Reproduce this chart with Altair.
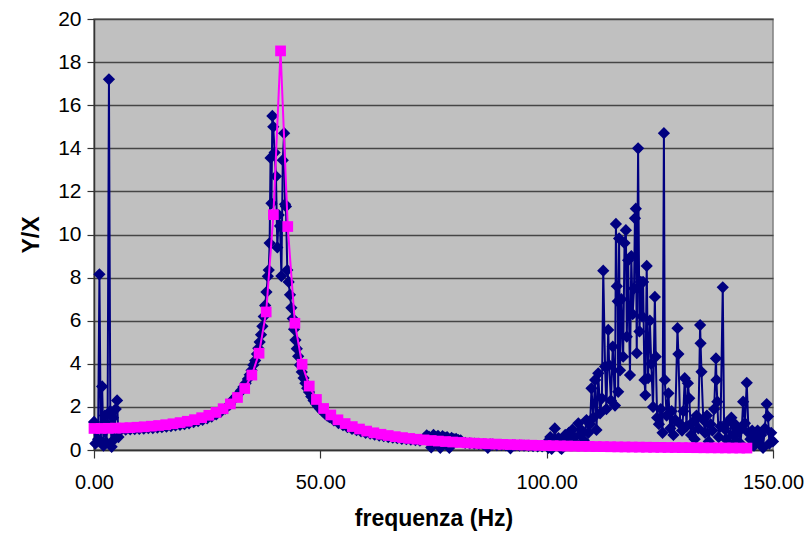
import altair as alt
import pandas as pd

# ---------------- measured series (blue diamonds) ----------------
navy_low_hz = [0.0, 0.3, 0.6, 0.9, 1.2, 1.5, 1.8, 2.1, 2.4, 2.7, 3.0, 3.3, 3.6, 3.9, 4.2, 4.5, 4.8, 5.1, 5.4, 5.7]
navy_low_yx = [1.3, 0.3, 1.0, 0.5, 8.15, 0.4, 2.95, 0.2, 1.6, 0.35, 1.2, 17.2, 1.8, 0.15, 1.5, 0.5, 1.9, 2.3, 0.6, 0.9]

navy_rise_hz = [6, 7, 8, 9, 10, 11, 12, 13, 14, 15, 16, 17, 18, 19, 20, 21, 22, 23, 24, 25, 26, 27, 28, 29, 30,
                30.5, 31.0, 31.5, 32.0, 32.5, 33.0, 33.5, 34.0, 34.4, 34.8, 35.2, 35.6, 36.0, 36.3, 36.6, 36.9,
                37.2, 37.5, 37.8, 38.1, 38.4]
navy_rise_yx = [0.94, 0.95, 0.96, 0.97, 0.98, 0.99, 1.01, 1.02, 1.04, 1.06, 1.08, 1.11, 1.14, 1.17, 1.20, 1.24,
                1.29, 1.34, 1.40, 1.47, 1.55, 1.65, 1.77, 1.92, 2.10,
                2.29, 2.39, 2.50, 2.62, 2.76, 2.92, 3.10, 3.30, 3.49, 3.70, 3.95, 4.15, 4.45, 4.72, 5.01, 5.35,
                5.74, 6.19, 6.71, 7.33, 8.06]

navy_peak_hz = [38.6, 38.8, 39.0, 39.2, 39.4, 39.6, 39.9, 40.2, 40.5, 40.8, 41.1, 41.4, 41.7, 42.0, 42.2, 42.4,
                42.7, 43.0]
navy_peak_yx = [8.35, 9.6, 13.55, 11.45, 15.5, 15.0, 13.8, 12.7, 9.4, 10.9, 10.4, 8.07, 13.45, 14.7, 11.4, 11.3,
                8.35, 7.8]

navy_fall_hz = [43.3, 43.6, 43.9, 44.2, 44.5, 44.8, 45.1, 45.5, 45.9, 46.3, 46.7, 47.1, 47.5, 48.0, 48.5, 49.0,
                49.5, 50.0, 50.5, 51.0, 51.5, 52.0, 53, 54, 55, 56, 57, 58, 59, 60, 61, 62, 63, 64, 65, 66, 67,
                68, 69, 70, 71, 72, 73, 73.5, 74, 74.5, 75, 75.5, 76, 76.5, 77, 77.5, 78, 78.5, 79, 79.5, 80,
                80.5, 81, 82, 83, 84, 85, 86, 87, 87.5, 88, 89, 90, 91, 92, 92.5, 93, 94, 95, 96, 97, 98, 99]
navy_fall_yx = [7.2, 6.6, 6.1, 5.6, 5.1, 4.7, 4.35, 3.95, 3.62, 3.34, 3.1, 2.87, 2.69, 2.48, 2.3, 2.15,
                2.02, 1.9, 1.79, 1.69, 1.6, 1.52, 1.37, 1.25, 1.15, 1.06, 0.98, 0.92, 0.86, 0.80, 0.76, 0.71,
                0.67, 0.64, 0.60, 0.57, 0.55, 0.52, 0.50, 0.48, 0.46, 0.44, 0.55, 0.68, 0.62, 0.12, 0.70, 0.60,
                0.66, 0.10, 0.64, 0.58, 0.60, 0.10, 0.56, 0.50, 0.52, 0.46, 0.45, 0.33, 0.31, 0.30, 0.28, 0.26,
                0.10, 0.26, 0.25, 0.23, 0.24, 0.22, 0.08, 0.22, 0.21, 0.20, 0.20, 0.19, 0.18, 0.17, 0.17]

navy_high_hz = [100.0, 100.4, 100.8, 101.1, 101.5, 101.8, 102.2, 102.6, 103.0, 103.3, 103.7, 104.1, 104.5, 104.9,
                105.3, 105.7, 106.1, 106.5, 107.0, 107.4, 107.8, 108.2, 108.8, 109.2, 109.6, 109.9, 110.3, 110.7,
                111.0, 111.4, 111.8, 112.2, 112.5, 112.9, 113.2, 113.6, 113.8, 114.2, 114.6, 115.1, 115.3, 115.5,
                115.7, 115.8, 116.0, 116.2, 116.5, 116.9, 117.2, 117.5, 117.7, 118.0, 118.4, 118.7, 119.0, 119.3,
                119.5, 119.7, 119.9, 120.2, 120.5, 120.8, 121.1, 121.3, 121.6, 121.8, 122.1, 122.4, 122.8, 123.1,
                123.5, 123.9, 124.1, 124.4, 124.8, 125.2, 125.6, 125.9, 126.1, 126.5, 126.9, 127.3, 127.6, 128.0,
                128.4, 128.9, 129.1, 129.5, 129.9, 130.2, 130.5, 130.9, 131.2, 131.5, 131.9, 132.3, 132.7, 133.1,
                133.5, 133.9, 134.0, 134.2, 134.6, 135.0, 135.4, 135.8, 136.2, 136.6, 137.0, 137.4, 137.5, 137.7,
                138.0, 138.4, 138.9, 139.2, 139.6, 140.0, 140.4, 140.8, 141.2, 141.6, 142.0, 142.4, 142.8, 143.1,
                143.4, 143.8, 144.2, 144.6, 145.0, 145.4, 145.8, 146.2, 146.6, 147.0, 147.4, 147.8, 148.2, 148.6,
                148.9, 149.2, 149.6, 150.0]
navy_high_yx = [0.35, 0.1, 0.6, 0.05, 0.4, 1.0, 0.3, 0.55, 0.1, 0.05, 0.45, 0.7, 0.35, 0.8,
                0.5, 0.95, 0.6, 0.3, 1.24, 0.7, 0.9, 0.45, 1.39, 0.8, 1.2, 2.86, 1.5, 3.25,
                0.93, 3.56, 1.7, 2.4, 8.32, 3.87, 1.9, 5.57, 3.94, 2.3, 4.8, 2.06, 10.49, 7.6,
                6.9, 2.7, 9.82, 3.7, 7.0, 4.33, 9.6, 10.2, 5.26, 8.8, 3.48, 9.0, 6.3, 7.5,
                10.75, 11.2, 4.49, 14.0, 5.5, 7.8, 6.2, 7.8, 3.25, 2.55, 8.54, 3.33, 6.0, 4.0,
                2.0, 7.1, 4.33, 1.5, 1.2, 1.9, 0.8, 14.7, 3.25, 1.6, 2.63, 1.0, 1.8, 0.7,
                1.4, 5.65, 4.45, 1.2, 0.9, 1.8, 3.33, 1.1, 3.1, 2.4, 0.7, 1.3, 0.5, 1.6,
                1.0, 5.8, 4.95, 3.63, 1.4, 0.8, 1.6, 0.4, 1.2, 0.9, 1.9, 4.25, 3.25, 2.24,
                0.6, 1.1, 7.55, 1.0, 0.5, 1.3, 0.3, 1.5, 0.7, 1.2, 0.4, 0.9, 0.3, 1.0,
                2.24, 1.24, 3.12, 0.8, 0.5, 0.9, 0.2, 0.6, 0.9, 0.3, 0.7, 0.1, 1.0, 2.13,
                1.55, 0.3, 0.8, 0.4]

# ---------------- theoretical series (magenta squares) ----------------
pink_hz = [0.00, 1.59, 3.17, 4.76, 6.34, 7.93, 9.51, 11.10, 12.68, 14.27, 15.85, 17.44, 19.02, 20.61, 22.19,
           23.78, 25.36, 26.95, 28.53, 30.12, 31.70, 33.29, 34.87, 36.46, 38.04, 39.63, 41.21, 42.80, 44.38,
           45.97, 47.55, 49.14, 50.72, 52.31, 53.89, 55.48, 57.06, 58.65, 60.23, 61.82, 63.40, 64.99, 66.57,
           68.16, 69.74, 71.33, 72.91, 74.50, 76.08, 77.67, 79.25, 80.84, 82.42, 84.01, 85.59, 87.18, 88.76,
           90.35, 91.93, 93.52, 95.10, 96.69, 98.27, 99.86, 101.44, 103.03, 104.61, 106.20, 107.78, 109.37,
           110.95, 112.54, 114.12, 115.71, 117.29, 118.88, 120.46, 122.05, 123.63, 125.22, 126.80, 128.39,
           129.97, 131.56, 133.14, 134.73, 136.31, 137.90, 139.48, 141.07, 142.65, 144.24]
pink_yx = [1.000, 1.002, 1.006, 1.014, 1.024, 1.038, 1.056, 1.078, 1.105, 1.136, 1.174, 1.218, 1.271, 1.333,
           1.408, 1.499, 1.610, 1.743, 1.916, 2.138, 2.437, 2.854, 3.476, 4.491, 6.406, 10.92, 18.52, 10.37,
           5.882, 3.978, 2.966, 2.345, 1.927, 1.627, 1.401, 1.226, 1.087, 0.973, 0.878, 0.798, 0.730, 0.672,
           0.620, 0.576, 0.536, 0.501, 0.469, 0.441, 0.415, 0.392, 0.370, 0.351, 0.333, 0.317, 0.302, 0.288,
           0.275, 0.263, 0.252, 0.241, 0.231, 0.222, 0.213, 0.205, 0.198, 0.191, 0.184, 0.177, 0.171, 0.166,
           0.160, 0.155, 0.150, 0.145, 0.141, 0.137, 0.133, 0.129, 0.125, 0.122, 0.118, 0.115, 0.112, 0.109,
           0.106, 0.103, 0.101, 0.098, 0.096, 0.093, 0.091, 0.089]

x_ticks = [0, 50, 100, 150]
y_ticks = [0, 2, 4, 6, 8, 10, 12, 14, 16, 18, 20]

navy_df = pd.DataFrame({
    "hz": navy_low_hz + navy_rise_hz + navy_peak_hz + navy_fall_hz + navy_high_hz,
    "yx": navy_low_yx + navy_rise_yx + navy_peak_yx + navy_fall_yx + navy_high_yx,
})
pink_df = pd.DataFrame({"hz": pink_hz, "yx": pink_yx})

FONT = "Liberation Sans"

x_enc = alt.X("hz:Q", scale=alt.Scale(domain=[0, 150], nice=False, zero=False),
              axis=alt.Axis(values=x_ticks, format=".2f", title="frequenza (Hz)", grid=False,
                            labelFlush=False, labelFontSize=20, tickSize=8, labelPadding=14,
                            titlePadding=15))
y_enc = alt.Y("yx:Q", scale=alt.Scale(domain=[0, 20], nice=False),
              axis=alt.Axis(values=y_ticks, format="d", title="Y/X", grid=True, labelFlush=False,
                            tickSize=7, labelPadding=6, titlePadding=14))

NAVY = "#000080"
PINK = "#FF00FF"

navy_line = alt.Chart(navy_df).mark_line(color=NAVY, strokeWidth=2, clip=False).encode(x=x_enc, y=y_enc)
navy_pts = alt.Chart(navy_df).mark_point(shape="diamond", size=150, filled=True, color=NAVY,
                                          opacity=1, clip=False).encode(x=x_enc, y=y_enc)
pink_line = alt.Chart(pink_df).mark_line(color=PINK, strokeWidth=2, clip=False).encode(x=x_enc, y=y_enc)
pink_pts = alt.Chart(pink_df).mark_point(shape="square", size=115, filled=True, color=PINK,
                                          opacity=1, clip=False).encode(x=x_enc, y=y_enc)

chart = alt.layer(navy_line, navy_pts, pink_line, pink_pts).properties(
    width=679, height=431,
    autosize=alt.AutoSizeParams(type="none"),
    padding={"left": 86, "top": 11, "right": 31, "bottom": 82},
    background="white",
).configure_view(
    fill="#C0C0C0", stroke="#808080", strokeWidth=1.5,
).configure_axis(
    labelFont=FONT, labelFontSize=21, labelColor="#000000",
    titleFont=FONT, titleFontSize=23, titleFontWeight="bold", titleColor="#000000",
    domainColor="#333333", domainWidth=1.5, tickColor="#333333", tickWidth=1.2,
    gridColor="#454545", gridWidth=1.5, gridOpacity=1,
)

chart.save("out.html", embed_options={"renderer": "svg", "actions": False})
